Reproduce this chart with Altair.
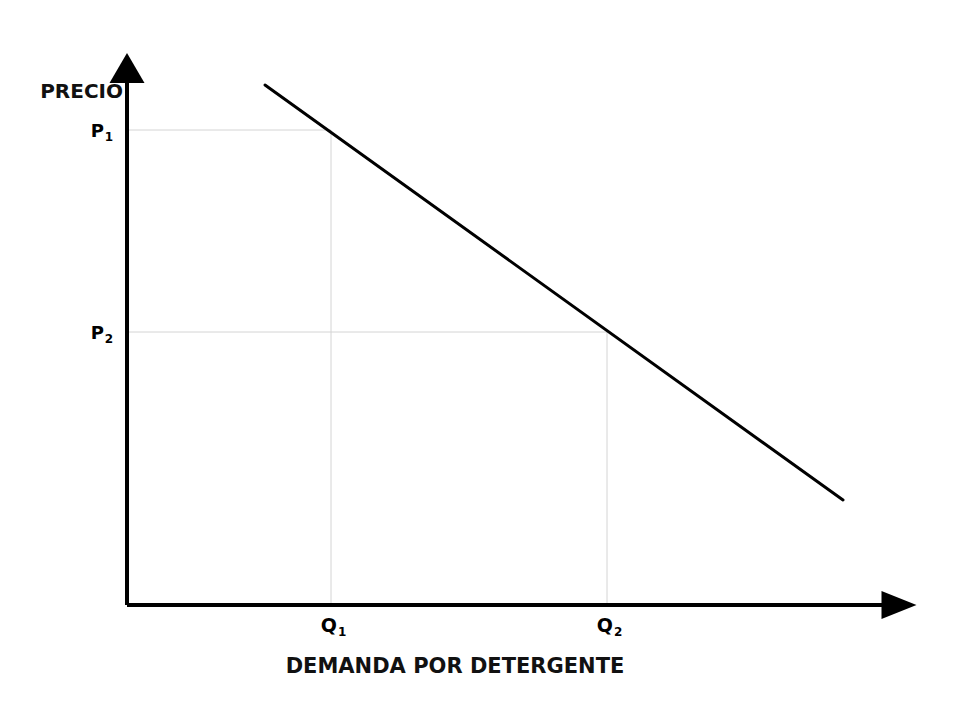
import altair as alt
import pandas as pd

# Data units: quantity 0..800, price 0..560 (abstract demand diagram)
demand_q = [138, 716]
demand_p = [520, 105]
q_levels = [204, 480]
p_levels = [475, 273]
q_letters = ["Q", "Q"]
q_subs = ["1", "2"]
p_letters = ["P", "P"]
p_subs = ["1", "2"]
x_title = "DEMANDA POR DETERGENTE"
y_title = "PRECIO"
axis_x_end = 760
axis_y_end = 522
arrow_x_pos = [772]
arrow_y_pos = [537]

X_DOMAIN = [0, 800]
Y_DOMAIN = [0, 560]
xs = alt.Scale(domain=X_DOMAIN, nice=False, zero=False)
ys = alt.Scale(domain=Y_DOMAIN, nice=False, zero=False)

FONT = "DejaVu Sans"

demand_df = pd.DataFrame({"q": demand_q, "p": demand_p})
lvl_df = pd.DataFrame({"q": q_levels, "p": p_levels, "zero": [0, 0],
                       "qlet": q_letters, "qsub": q_subs,
                       "plet": p_letters, "psub": p_subs})
axes_df = pd.DataFrame({"x": [0, 0], "y": [0, 0],
                        "x2": [axis_x_end, 0], "y2": [0, axis_y_end]})
arrow_x_df = pd.DataFrame({"x": arrow_x_pos, "y": [0]})
arrow_y_df = pd.DataFrame({"x": [0], "y": arrow_y_pos})
titles_df = pd.DataFrame({"t": [x_title]})
ytitle_df = pd.DataFrame({"t": [y_title]})

X = lambda f: alt.X(f, scale=xs, axis=None)
Y = lambda f: alt.Y(f, scale=ys, axis=None)

grid_v = alt.Chart(lvl_df).mark_rule(color="#d4d4d4", strokeWidth=1).encode(
    x=X("q:Q"), y=Y("zero:Q"), y2="p:Q",
)
grid_h = alt.Chart(lvl_df).mark_rule(color="#d4d4d4", strokeWidth=1).encode(
    x=X("zero:Q"), x2="q:Q", y=Y("p:Q"),
)

demand = alt.Chart(demand_df).mark_line(color="black", strokeWidth=3, strokeCap="round").encode(
    x=X("q:Q"), y=Y("p:Q"),
)

axes = alt.Chart(axes_df).mark_rule(color="black", strokeWidth=4).encode(
    x=X("x:Q"), x2="x2:Q", y=Y("y:Q"), y2="y2:Q",
)

arrow_right = alt.Chart(arrow_x_df).mark_point(
    shape="M1,0L-1,-0.8L-1,0.8Z", filled=True, color="black", size=1225, opacity=1
).encode(x=X("x:Q"), y=Y("y:Q"))
arrow_up = alt.Chart(arrow_y_df).mark_point(
    shape="M0,-0.86L1,0.86L-1,0.86Z", filled=True, color="black", size=1225, opacity=1
).encode(x=X("x:Q"), y=Y("y:Q"))

q_let = alt.Chart(lvl_df).mark_text(
    font=FONT, fontWeight="bold", fontSize=19, align="right", baseline="alphabetic",
    dx=6, dy=27, color="black"
).encode(x=X("q:Q"), y=Y("zero:Q"), text="qlet:N")
q_sub = alt.Chart(lvl_df).mark_text(
    font=FONT, fontWeight="bold", fontSize=12, align="left", baseline="alphabetic",
    dx=7, dy=31, color="black"
).encode(x=X("q:Q"), y=Y("zero:Q"), text="qsub:N")

p_let = alt.Chart(lvl_df).mark_text(
    font=FONT, fontWeight="bold", fontSize=18, align="right", baseline="alphabetic",
    dx=-23, dy=7, color="black"
).encode(x=X("zero:Q"), y=Y("p:Q"), text="plet:N")
p_sub = alt.Chart(lvl_df).mark_text(
    font=FONT, fontWeight="bold", fontSize=12, align="right", baseline="alphabetic",
    dx=-14, dy=11, color="black"
).encode(x=X("zero:Q"), y=Y("p:Q"), text="psub:N")

x_title_text = alt.Chart(titles_df).mark_text(
    font=FONT, fontWeight="bold", fontSize=21, align="center", baseline="alphabetic",
    color="#111"
).encode(x=alt.value(328), y=alt.value(628), text="t:N")
y_title_text = alt.Chart(ytitle_df).mark_text(
    font=FONT, fontWeight="bold", fontSize=20, align="right", baseline="middle",
    color="#111"
).encode(x=alt.value(-4), y=alt.value(47), text="t:N")

chart = alt.layer(
    grid_v, grid_h, demand, axes, arrow_right, arrow_up,
    q_let, q_sub, p_let, p_sub, x_title_text, y_title_text
).properties(
    width=800, height=560,
    autosize=alt.AutoSizeParams(type="none"),
    padding={"left": 119, "top": 37, "right": 25, "bottom": 100},
    background="white",
).configure_view(stroke=None)

chart.save("out.html", embed_options={"renderer": "svg", "actions": False})
